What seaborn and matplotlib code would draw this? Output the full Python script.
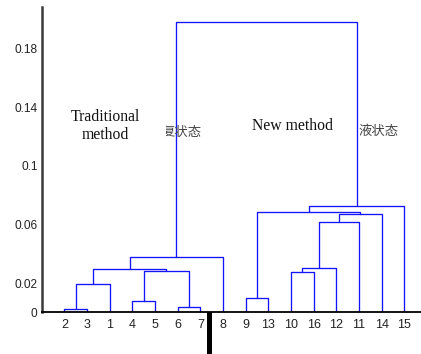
import numpy as np
import pandas as pd
import matplotlib
matplotlib.use("Agg")
import matplotlib.pyplot as plt
import seaborn as sns
from matplotlib.transforms import Bbox
from matplotlib.patches import Rectangle

# ---- data ----
leaf_labels = ['2', '3', '1', '4', '5', '6', '7', '8',
               '9', '13', '10', '16', '12', '11', '14', '15']
# merges: node ids 0..15 are leaves (in display order), 16.. are merges
merge_left = [0, 5, 3, 16, 18, 19, 21, 8, 10, 24, 25, 26, 23, 28, 22]
merge_right = [1, 6, 4, 2, 17, 20, 7, 9, 11, 12, 13, 14, 27, 15, 29]
merge_height = [0.0025, 0.0038, 0.0079, 0.0195, 0.0280, 0.0298, 0.0380,
                0.0096, 0.0273, 0.0300, 0.0618, 0.0669, 0.0685, 0.0726, 0.1984]
ytick_values = [0, 0.02, 0.06, 0.1, 0.14, 0.18]
ytick_labels = ['0', '0.02', '0.06', '0.1', '0.14', '0.18']

# ---- build dendrogram link table ----
n_leaves = len(leaf_labels)
node_x = {i: i + 1.0 for i in range(n_leaves)}
node_h = {i: 0.0 for i in range(n_leaves)}
rows = []
for k, (a, b, h) in enumerate(zip(merge_left, merge_right, merge_height)):
    nid = n_leaves + k
    xa, xb = node_x[a], node_x[b]
    for px, py in [(xa, node_h[a]), (xa, h), (xb, h), (xb, node_h[b])]:
        rows.append({'link': k, 'x': px, 'y': py})
    node_x[nid] = (xa + xb) / 2
    node_h[nid] = h
df = pd.DataFrame(rows)

# ---- figure ----
sns.set_style("white")
plt.rcParams['font.family'] = ['Liberation Sans', 'DejaVu Sans']

W, H = 421, 354
fig = plt.figure(figsize=(W / 100, H / 100), dpi=100)
ax_left, ax_bottom = 41.7 / W, (H - 312.3) / H
ax_height = (312.3 - 7) / H
ax_width = 17 * 22.67 / W
ax = fig.add_axes([ax_left, ax_bottom, ax_width, ax_height])

sns.lineplot(data=df, x='x', y='y', units='link', estimator=None, sort=False,
             color='#1414ff', lw=0.95, ax=ax, legend=False)

ax.set_xlim(0, 17)
ax.set_ylim(0, 0.2085)
ax.set_xlabel('')
ax.set_ylabel('')
ax.set_xticks(np.arange(1, n_leaves + 1))
ax.set_xticklabels(leaf_labels)
ax.set_yticks(ytick_values)
ax.set_yticklabels(ytick_labels)
ax.tick_params(axis='y', direction='in', length=4, width=1, color='#333333',
               labelsize=8.6, labelcolor='#222222', pad=3)
ax.tick_params(axis='x', direction='in', length=0, labelsize=9,
               labelcolor='#222222', pad=5)
for s in ['top', 'right']:
    ax.spines[s].set_visible(False)
ax.spines['left'].set_color('#3a3a3a')
ax.spines['left'].set_linewidth(1.8)
ax.spines['bottom'].set_color('black')
ax.spines['bottom'].set_linewidth(1.3)

serif = ['Liberation Serif', 'DejaVu Serif']
fig.text(105 / W, 1 - 120.7 / H, 'Traditional', ha='center', va='baseline',
         fontsize=11.3, family=serif, color='#111111')
fig.text(105 / W, 1 - 139 / H, 'method', ha='center', va='baseline',
         fontsize=11.3, family=serif, color='#111111')
fig.text(292.5 / W, 1 - 130 / H, 'New method', ha='center', va='baseline',
         fontsize=11.3, family=serif, color='#111111')

cjk = ['Noto Sans CJK SC', 'DejaVu Sans']
t1 = fig.text(161.5 / W, 1 - 131.5 / H, '复状态', ha='left', va='center',
              fontsize=9.6, family=cjk, color='#444444')
t1.set_clip_box(Bbox.from_extents(166, 0, W, H))
t1.set_clip_on(True)
fig.text(358 / W, 1 - 130.5 / H, '液状态', ha='left', va='center',
         fontsize=9.6, family=cjk, color='#444444')

fig.add_artist(Rectangle((206.7 / W, 0), 5 / W, (H - 312.3) / H,
                         transform=fig.transFigure, color='black', lw=0))

fig.savefig('out.png', dpi=100)
